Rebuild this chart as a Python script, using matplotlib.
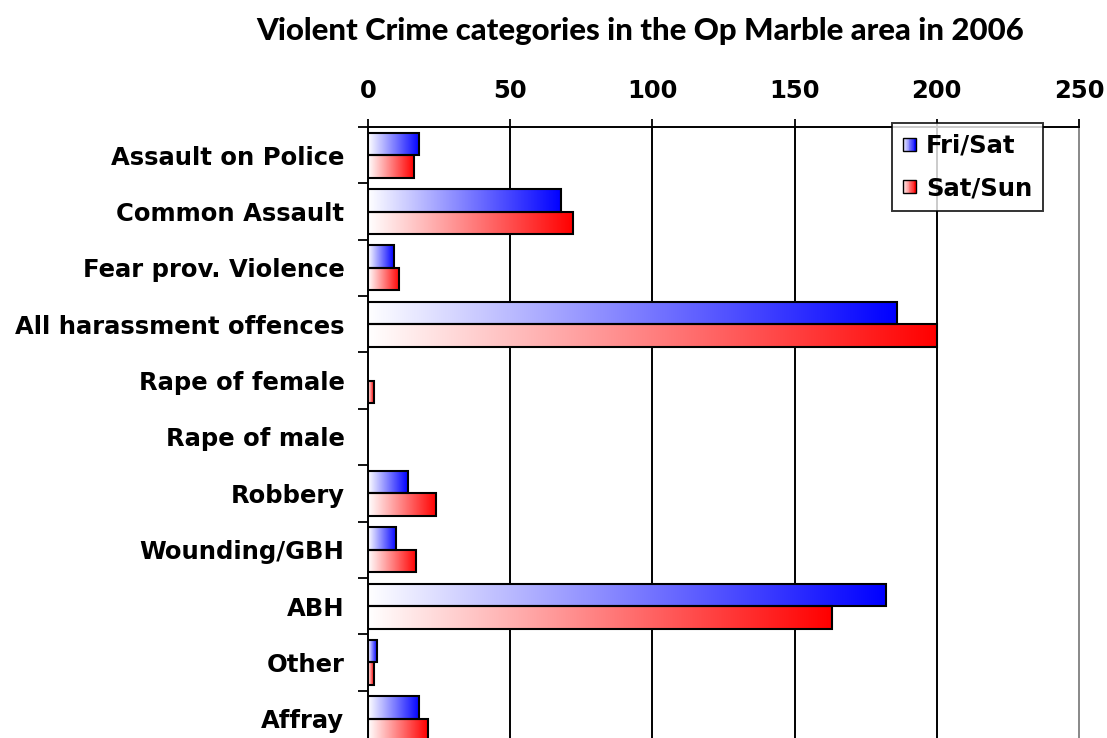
import numpy as np
import matplotlib
matplotlib.use("Agg")
import matplotlib.pyplot as plt
from matplotlib.colors import LinearSegmentedColormap
from matplotlib.patches import Rectangle, Patch
from matplotlib.legend_handler import HandlerBase

categories = ["Assault on Police", "Common Assault", "Fear prov. Violence",
              "All harassment offences", "Rape of female", "Rape of male",
              "Robbery", "Wounding/GBH", "ABH", "Other", "Affray"]
fri_sat = [18, 68, 9, 186, 0, 0, 14, 10, 182, 3, 18]
sat_sun = [16, 72, 11, 200, 2, 0, 24, 17, 163, 2, 21]
series_names = ["Fri/Sat", "Sat/Sun"]
x_ticks = [0, 50, 100, 150, 200, 250]

blue_map = LinearSegmentedColormap.from_list("wb", ["#ffffff", "#0000ff"])
red_map = LinearSegmentedColormap.from_list("wr", ["#ffffff", "#ff0000"])
grad = np.linspace(0, 1, 256).reshape(1, -1)

plt.rcParams['font.family'] = ['DejaVu Sans']
plt.rcParams['font.weight'] = 'bold'

fig = plt.figure(figsize=(11.07, 7.38), dpi=100)
ax = fig.add_axes([368/1107, -9/738, 711/1107, 620/738])


def gradient_bar(ax, y0, y1, value, cmap):
    if value <= 0:
        return
    ax.imshow(grad, cmap=cmap, aspect='auto', extent=(0, value, y1, y0),
              interpolation='bilinear', zorder=3)
    ax.add_patch(Rectangle((0, y0), value, y1 - y0, fill=False,
                           edgecolor='black', linewidth=1.5, zorder=4))


h = 0.4
for i in range(len(categories)):
    gradient_bar(ax, i - h, i, fri_sat[i], blue_map)
    gradient_bar(ax, i, i + h, sat_sun[i], red_map)

ax.set_xlim(x_ticks[0], x_ticks[-1])
ax.set_ylim(len(categories) - 0.5, -0.5)
ax.set_aspect('auto')

# vertical grid lines
for t in x_ticks[1:-1]:
    ax.axvline(t, color='black', linewidth=1.4, zorder=1)

ax.xaxis.tick_top()
ax.set_xticks(x_ticks)
ax.set_xticklabels([str(t) for t in x_ticks], fontsize=17.5, fontweight='bold')
ax.tick_params(axis='x', direction='out', length=6, width=1.3, pad=11)

ax.set_yticks(range(len(categories)))
ax.set_yticklabels(categories, fontsize=17.5, fontweight='bold')
ax.tick_params(axis='y', which='major', length=0, pad=17)
ax.set_yticks(np.arange(len(categories) + 1) - 0.5, minor=True)
ax.tick_params(axis='y', which='minor', direction='out', length=7, width=1.3)

for side in ['top', 'left']:
    ax.spines[side].set_linewidth(1.4)
    ax.spines[side].set_color('black')
ax.spines['right'].set_color('#888888')
ax.spines['right'].set_linewidth(1.4)
ax.spines['bottom'].set_visible(False)


class GradientHandler(HandlerBase):
    def __init__(self, cmap):
        super().__init__()
        self.cmap = cmap

    def create_artists(self, legend, orig_handle, xdescent, ydescent,
                       width, height, fontsize, trans):
        side = 0.55 * fontsize
        x0 = -xdescent
        y0 = -ydescent + (height - side) / 2
        n = 16
        parts = []
        for k in range(n):
            parts.append(Rectangle((x0 + k * side / n, y0), side / n, side,
                                   facecolor=self.cmap(k / (n - 1)),
                                   edgecolor='none', transform=trans))
        parts.append(Rectangle((x0, y0), side, side, fill=False,
                               edgecolor='black', linewidth=1.0,
                               transform=trans))
        return parts


h_fri = Patch(label=series_names[0])
h_sat = Patch(label=series_names[1])
leg = ax.legend(handles=[h_fri, h_sat],
                handler_map={h_fri: GradientHandler(blue_map),
                             h_sat: GradientHandler(red_map)},
                loc='upper right', bbox_to_anchor=(1043/1107, 1 - 123/738),
                bbox_transform=fig.transFigure, fancybox=False,
                prop={'size': 17.5, 'weight': 'bold'},
                handlelength=0.6, handletextpad=0.35, labelspacing=0.75,
                borderpad=0.45, borderaxespad=0)
leg.get_frame().set_edgecolor('black')
leg.get_frame().set_linewidth(1.4)
leg.set_zorder(10)

fig.text(640/1107, 1 - 31/738, "Violent Crime categories in the Op Marble area in 2006",
         ha='center', va='center', fontsize=22.4, fontweight='black', family='Lato')

fig.savefig("out.png", dpi=100)
